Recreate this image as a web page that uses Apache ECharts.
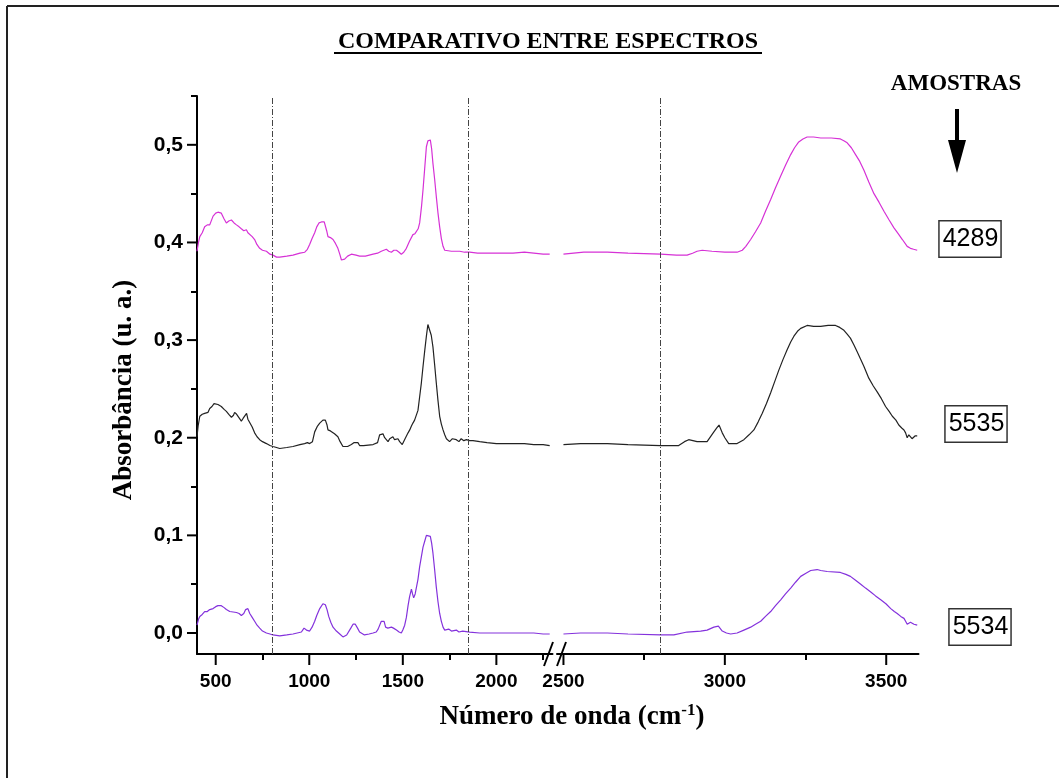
<!DOCTYPE html>
<html>
<head>
<meta charset="utf-8">
<script src="https://cdn.jsdelivr.net/npm/echarts@6/dist/echarts.min.js"></script>
<style>
  html, body { margin: 0; padding: 0; background: #fff; }
  #chart { width: 1059px; height: 778px; }
</style>
</head>
<body>
<div id="chart"></div>
<script>
// sample names and colours
const sampleNames = ['4289', '5535', '5534'];
const sampleColors = ['#d631d6', '#222222', '#8432dc'];

// wavenumber (cm-1) / absorbance
const wn4289 = [400, 408, 415, 428, 441, 455, 468, 486, 500, 512, 530, 545, 557, 570, 584, 598, 611, 625, 637, 650, 664, 672, 682, 695, 708, 720, 735, 750, 771, 790, 806, 825, 842, 880, 913, 950, 976, 990, 1002, 1015, 1029, 1040, 1052, 1065, 1073, 1080, 1086, 1093, 1100, 1113, 1127, 1140, 1153, 1163, 1172, 1180, 1189, 1205, 1225, 1250, 1269, 1300, 1341, 1365, 1385, 1395, 1412, 1425, 1439, 1452, 1466, 1480, 1492, 1505, 1519, 1535, 1554, 1565, 1572, 1582, 1590, 1600, 1608, 1617, 1626, 1634, 1640, 1647, 1654, 1661, 1670, 1679, 1688, 1697, 1706, 1715, 1724, 1733, 1760, 1804, 1830, 1857, 1900, 1950, 2000, 2050, 2089, 2150, 2200, 2250, 2285,
  2500, 2563, 2636, 2700, 2801, 2850, 2883, 2900, 2914, 2930, 2960, 3000, 3038, 3054, 3065, 3080, 3095, 3111, 3126, 3142, 3157, 3173, 3188, 3204, 3216, 3229, 3242, 3255, 3275, 3297, 3330, 3358, 3370, 3379, 3392, 3405, 3418, 3431, 3446, 3462, 3478, 3493, 3509, 3524, 3537, 3550, 3565, 3575, 3585, 3596];
const abs4289 = [0.391, 0.400, 0.406, 0.410, 0.416, 0.418, 0.418, 0.427, 0.430, 0.431, 0.430, 0.424, 0.420, 0.422, 0.423, 0.420, 0.418, 0.416, 0.414, 0.412, 0.413, 0.410, 0.409, 0.406, 0.403, 0.398, 0.394, 0.392, 0.391, 0.388, 0.387, 0.385, 0.385, 0.386, 0.387, 0.389, 0.390, 0.393, 0.398, 0.404, 0.410, 0.416, 0.420, 0.421, 0.423, 0.421, 0.420, 0.412, 0.406, 0.405, 0.403, 0.399, 0.394, 0.388, 0.382, 0.382, 0.383, 0.386, 0.388, 0.387, 0.386, 0.386, 0.388, 0.389, 0.391, 0.393, 0.393, 0.391, 0.390, 0.392, 0.392, 0.390, 0.388, 0.390, 0.394, 0.401, 0.408, 0.409, 0.410, 0.414, 0.420, 0.437, 0.454, 0.476, 0.498, 0.504, 0.506, 0.505, 0.496, 0.481, 0.465, 0.447, 0.430, 0.416, 0.404, 0.396, 0.392, 0.390, 0.391, 0.391, 0.390, 0.390, 0.389, 0.389, 0.389, 0.389, 0.389, 0.390, 0.389, 0.388, 0.388,
  0.388, 0.390, 0.390, 0.389, 0.388, 0.387, 0.387, 0.389, 0.391, 0.392, 0.391, 0.390, 0.390, 0.392, 0.396, 0.403, 0.411, 0.420, 0.432, 0.444, 0.456, 0.468, 0.479, 0.490, 0.497, 0.503, 0.506, 0.508, 0.508, 0.507, 0.507, 0.506, 0.504, 0.502, 0.497, 0.490, 0.483, 0.474, 0.462, 0.450, 0.441, 0.432, 0.423, 0.415, 0.409, 0.403, 0.396, 0.394, 0.393, 0.392];

const wn5535 = [400, 406, 415, 428, 433, 441, 450, 459, 468, 480, 491, 500, 512, 530, 545, 557, 570, 584, 595, 601, 612, 622, 637, 647, 655, 665, 672, 682, 695, 708, 721, 735, 750, 771, 790, 806, 825, 842, 880, 913, 950, 975, 990, 1002, 1017, 1029, 1044, 1056, 1073, 1086, 1095, 1100, 1113, 1123, 1135, 1153, 1165, 1180, 1189, 1205, 1225, 1240, 1248, 1260, 1269, 1290, 1341, 1365, 1376, 1386, 1394, 1403, 1412, 1421, 1430, 1439, 1447, 1456, 1465, 1474, 1483, 1492, 1497, 1505, 1512, 1519, 1528, 1537, 1546, 1554, 1563, 1572, 1581, 1590, 1599, 1608, 1617, 1626, 1634, 1644, 1652, 1661, 1670, 1679, 1688, 1697, 1706, 1715, 1724, 1733, 1742, 1750, 1765, 1775, 1786, 1800, 1812, 1826, 1840, 1857, 1875, 1911, 1950, 2000, 2089, 2150, 2200, 2250, 2285,
  2500, 2553, 2636, 2700, 2801, 2857, 2875, 2888, 2914, 2945, 2966, 2975, 2982, 2992, 3000, 3012, 3038, 3059, 3075, 3090, 3103, 3116, 3129, 3142, 3155, 3167, 3180, 3193, 3204, 3214, 3225, 3235, 3255, 3275, 3297, 3320, 3343, 3356, 3369, 3379, 3389, 3400, 3410, 3420, 3431, 3446, 3460, 3472, 3485, 3498, 3509, 3519, 3530, 3539, 3548, 3555, 3560, 3565, 3570, 3575, 3580, 3584, 3590, 3596];
const abs5535 = [0.201, 0.212, 0.222, 0.224, 0.222, 0.225, 0.223, 0.226, 0.230, 0.232, 0.235, 0.236, 0.234, 0.232, 0.229, 0.227, 0.224, 0.221, 0.223, 0.226, 0.224, 0.222, 0.217, 0.220, 0.222, 0.225, 0.219, 0.217, 0.211, 0.205, 0.201, 0.198, 0.196, 0.194, 0.192, 0.191, 0.190, 0.189, 0.190, 0.191, 0.193, 0.194, 0.195, 0.194, 0.196, 0.206, 0.212, 0.215, 0.218, 0.218, 0.213, 0.208, 0.207, 0.206, 0.204, 0.201, 0.196, 0.191, 0.189, 0.191, 0.193, 0.195, 0.197, 0.195, 0.192, 0.192, 0.193, 0.195, 0.203, 0.204, 0.204, 0.200, 0.198, 0.196, 0.199, 0.201, 0.201, 0.198, 0.200, 0.199, 0.196, 0.196, 0.193, 0.191, 0.199, 0.199, 0.205, 0.208, 0.212, 0.215, 0.218, 0.220, 0.228, 0.242, 0.256, 0.273, 0.289, 0.304, 0.316, 0.314, 0.305, 0.293, 0.275, 0.256, 0.238, 0.222, 0.214, 0.208, 0.203, 0.199, 0.197, 0.196, 0.199, 0.197, 0.198, 0.196, 0.199, 0.197, 0.198, 0.197, 0.197, 0.196, 0.195, 0.194, 0.194, 0.194, 0.193, 0.193, 0.192,
  0.193, 0.194, 0.194, 0.193, 0.192, 0.192, 0.196, 0.198, 0.196, 0.196, 0.206, 0.210, 0.213, 0.205, 0.200, 0.194, 0.194, 0.198, 0.203, 0.208, 0.216, 0.225, 0.235, 0.246, 0.258, 0.269, 0.280, 0.290, 0.298, 0.304, 0.309, 0.312, 0.315, 0.314, 0.314, 0.315, 0.315, 0.313, 0.310, 0.306, 0.302, 0.295, 0.288, 0.281, 0.273, 0.261, 0.253, 0.247, 0.240, 0.232, 0.227, 0.222, 0.218, 0.213, 0.210, 0.208, 0.205, 0.200, 0.203, 0.204, 0.199, 0.200, 0.202, 0.202];

const wn5534 = [400, 408, 415, 428, 441, 455, 468, 486, 500, 512, 530, 545, 557, 575, 584, 611, 625, 637, 650, 660, 672, 682, 695, 708, 721, 735, 750, 771, 790, 806, 842, 880, 913, 958, 972, 985, 1002, 1015, 1029, 1040, 1056, 1073, 1086, 1095, 1104, 1115, 1127, 1145, 1163, 1180, 1186, 1200, 1210, 1222, 1234, 1246, 1258, 1269, 1295, 1320, 1341, 1358, 1368, 1385, 1393, 1400, 1408, 1420, 1430, 1439, 1450, 1466, 1480, 1492, 1500, 1510, 1519, 1528, 1536, 1546, 1552, 1558, 1566, 1572, 1581, 1590, 1599, 1608, 1617, 1626, 1634, 1647, 1654, 1661, 1670, 1679, 1688, 1697, 1706, 1715, 1724, 1733, 1745, 1760, 1786, 1800, 1820, 1857, 1911, 2000, 2089, 2150, 2200, 2250, 2285,
  2500, 2553, 2636, 2700, 2801, 2842, 2883, 2925, 2945, 2966, 2980, 2992, 3005, 3018, 3038, 3059, 3080, 3095, 3111, 3126, 3142, 3157, 3173, 3188, 3204, 3219, 3235, 3250, 3266, 3286, 3297, 3317, 3358, 3375, 3389, 3405, 3421, 3436, 3452, 3467, 3483, 3499, 3514, 3525, 3534, 3545, 3555, 3560, 3565, 3570, 3575, 3580, 3586, 3596];
const abs5534 = [0.008, 0.014, 0.017, 0.019, 0.022, 0.022, 0.024, 0.025, 0.027, 0.028, 0.028, 0.026, 0.024, 0.022, 0.021, 0.021, 0.020, 0.018, 0.020, 0.024, 0.025, 0.020, 0.016, 0.012, 0.008, 0.005, 0.002, 0.000, -0.001, -0.002, -0.003, -0.002, -0.001, 0.001, 0.005, 0.003, 0.002, 0.006, 0.012, 0.018, 0.025, 0.030, 0.029, 0.024, 0.017, 0.011, 0.006, 0.002, -0.001, -0.004, -0.005, -0.002, 0.000, 0.005, 0.009, 0.009, 0.005, 0.001, -0.002, -0.001, 0.000, 0.001, 0.004, 0.012, 0.014, 0.012, 0.006, 0.005, 0.007, 0.006, 0.005, 0.003, 0.001, 0.000, 0.003, 0.008, 0.016, 0.028, 0.037, 0.045, 0.040, 0.036, 0.040, 0.042, 0.055, 0.068, 0.078, 0.088, 0.094, 0.100, 0.101, 0.099, 0.092, 0.082, 0.065, 0.047, 0.032, 0.020, 0.012, 0.006, 0.003, 0.002, 0.004, 0.002, 0.003, 0.001, 0.002, 0.001, 0.000, 0.000, 0.000, 0.000, 0.000, -0.001, -0.001,
  -0.001, 0.000, 0.000, -0.001, -0.002, -0.002, 0.001, 0.002, 0.003, 0.006, 0.007, 0.002, 0.000, -0.001, 0.000, 0.003, 0.006, 0.009, 0.012, 0.017, 0.022, 0.028, 0.034, 0.040, 0.046, 0.052, 0.058, 0.061, 0.064, 0.065, 0.064, 0.063, 0.062, 0.060, 0.058, 0.054, 0.050, 0.046, 0.042, 0.038, 0.034, 0.030, 0.025, 0.022, 0.020, 0.017, 0.015, 0.012, 0.009, 0.011, 0.011, 0.009, 0.009, 0.008];

// broken x axis: two ranges
const lowRange = [400, 2300];
const highRange = [2480, 3600];
const lowMajor = [500, 1000, 1500, 2000];
const lowMinor = [750, 1250, 1750, 2250];
const highMajor = [2500, 3000, 3500];
const highMinor = [2750, 3250];
const yRange = [-0.0215, 0.55];
const yMajor = [0, 0.1, 0.2, 0.3, 0.4, 0.5];
const yMinor = [0.05, 0.15, 0.25, 0.35, 0.45, 0.55];
const guideLow = [800, 1850];
const guideHigh = [2800];

const wnAll = [wn4289, wn5535, wn5534];
const absAll = [abs4289, abs5535, abs5534];

const SERIF = '"Liberation Serif", "Times New Roman", serif';
const SANS = '"Liberation Sans", Arial, sans-serif';

function segment(wn, abs, range) {
    const out = [];
    for (let i = 0; i < wn.length; i++) {
        if (wn[i] >= range[0] && wn[i] <= range[1]) out.push([wn[i], abs[i]]);
    }
    return out;
}

function guideMark(values) {
    return {
        silent: true,
        symbol: 'none',
        label: { show: false },
        lineStyle: { color: '#444', width: 1, type: [6, 2, 1, 2] },
        data: values.map(v => ({ xAxis: v }))
    };
}

// x axes: 0-1 on left grid, 2-3 on right grid; y axes 0-1 left grid, 2 right grid
const series = [];
sampleNames.forEach((name, i) => {
    [lowRange, highRange].forEach((range, g) => {
        series.push({
            name: name,
            type: 'line',
            xAxisIndex: g === 0 ? 0 : 2,
            yAxisIndex: g === 0 ? 0 : 2,
            data: segment(wnAll[i], absAll[i], range),
            showSymbol: false,
            lineStyle: { color: sampleColors[i], width: 1.2 },
            itemStyle: { color: sampleColors[i] },
            animation: false,
            markLine: i === 0 ? guideMark(g === 0 ? guideLow : guideHigh) : undefined
        });
    });
});

const tickLine = { color: '#000', width: 2 };
const xLabelFont = { fontFamily: SANS, fontWeight: 'bold', fontSize: 19, color: '#000' };
const yLabelFont = { fontFamily: SANS, fontWeight: 'bold', fontSize: 21, color: '#000' };

function xMain(grid, range, major) {
    return {
        type: 'value', gridIndex: grid, position: 'bottom', min: range[0], max: range[1],
        axisLine: { show: true, onZero: false, lineStyle: { color: '#000', width: 2 } },
        axisTick: { show: false },
        axisLabel: Object.assign({ customValues: major, margin: 18, formatter: v => String(v) }, xLabelFont),
        splitLine: { show: false }
    };
}
function xMinor(grid, range, minor) {
    return {
        type: 'value', gridIndex: grid, position: 'bottom', min: range[0], max: range[1],
        axisLine: { show: false, onZero: false },
        axisTick: { show: true, customValues: minor, length: 6, lineStyle: tickLine },
        axisLabel: { show: false },
        splitLine: { show: false }
    };
}

const chart = echarts.init(document.getElementById('chart'));

const boxes = [
    { x: 970, y: 239 },
    { x: 976, y: 424 },
    { x: 980, y: 627 }
];

const staticGraphic = [
    // frame
    { id: 'frameTop', type: 'line', shape: { x1: 7, y1: 6, x2: 1059, y2: 6 }, style: { stroke: '#222', lineWidth: 2 } },
    { id: 'frameLeft', type: 'line', shape: { x1: 7, y1: 6, x2: 7, y2: 778 }, style: { stroke: '#222', lineWidth: 2 } },
    // title
    {
        id: 'title', type: 'text', x: 548, y: 42,
        style: { text: 'COMPARATIVO ENTRE ESPECTROS', font: 'bold 24px ' + SERIF, fill: '#000', align: 'center', verticalAlign: 'middle', textAlign: 'center', textVerticalAlign: 'middle' }
    },
    { id: 'titleLine', type: 'line', shape: { x1: 334, y1: 53, x2: 762, y2: 53 }, style: { stroke: '#000', lineWidth: 2 } },
    // legend heading and arrow
    {
        id: 'amostras', type: 'text', x: 956, y: 84,
        style: { text: 'AMOSTRAS', font: 'bold 23px ' + SERIF, fill: '#000', align: 'center', verticalAlign: 'middle', textAlign: 'center', textVerticalAlign: 'middle' }
    },
    { id: 'arrowShaft', type: 'line', shape: { x1: 957, y1: 109, x2: 957, y2: 145 }, style: { stroke: '#000', lineWidth: 4 } },
    { id: 'arrowHead', type: 'polygon', shape: { points: [[948, 140], [966, 140], [957, 173]] }, style: { fill: '#000' } },
    // sample boxes
    ...sampleNames.map((name, i) => ({
        id: 'box' + i, type: 'text', x: boxes[i].x, y: boxes[i].y,
        style: {
            text: name, font: '25px ' + SANS, fill: '#000',
            align: 'center', verticalAlign: 'middle', textAlign: 'center', textVerticalAlign: 'middle',
            borderColor: '#333', borderWidth: 1.5, padding: [6, 2, 4, 3], backgroundColor: '#fff'
        }
    })),
    // axis names
    {
        id: 'yName', type: 'text', x: 124, y: 390, rotation: Math.PI / 2,
        style: { text: 'Absorbância (u. a.)', font: 'bold 27px ' + SERIF, fill: '#000', align: 'center', verticalAlign: 'middle', textAlign: 'center', textVerticalAlign: 'middle' }
    },
    {
        id: 'xName', type: 'text', x: 572, y: 717,
        style: {
            text: '{a|Número de onda (cm}{s|-1}{a|)}',
            fill: '#000', align: 'center', verticalAlign: 'middle', textAlign: 'center', textVerticalAlign: 'middle',
            rich: {
                a: { fontFamily: SERIF, fontWeight: 'bold', fontSize: 27, fill: '#000', color: '#000' },
                s: { fontFamily: SERIF, fontWeight: 'bold', fontSize: 17, fill: '#000', color: '#000', verticalAlign: 'top', padding: [0, 0, 12, 0] }
            }
        }
    },
    // axis break marks
    { id: 'break1', type: 'line', shape: { x1: 544, y1: 666, x2: 553, y2: 642 }, style: { stroke: '#000', lineWidth: 2 } },
    { id: 'break2', type: 'line', shape: { x1: 557, y1: 666, x2: 566, y2: 642 }, style: { stroke: '#000', lineWidth: 2 } }
];

chart.setOption({
    backgroundColor: '#fff',
    animation: false,
    grid: [
        { left: 197, top: 96, width: 355.5, height: 558 },
        { left: 557, top: 96, width: 361.5, height: 558 }
    ],
    xAxis: [
        xMain(0, lowRange, lowMajor),
        xMinor(0, lowRange, lowMinor),
        xMain(1, highRange, highMajor),
        xMinor(1, highRange, highMinor)
    ],
    yAxis: [
        {
            type: 'value', gridIndex: 0, position: 'left', min: yRange[0], max: yRange[1],
            axisLine: { show: true, onZero: false, lineStyle: { color: '#000', width: 2 } },
            axisTick: { show: false },
            axisLabel: Object.assign({
                customValues: yMajor, margin: 14,
                formatter: v => v.toFixed(1).replace('.', ',')
            }, yLabelFont),
            splitLine: { show: false }
        },
        {
            type: 'value', gridIndex: 0, position: 'left', min: yRange[0], max: yRange[1],
            axisLine: { show: false, onZero: false },
            axisTick: { show: true, customValues: yMinor, length: 6, lineStyle: tickLine },
            axisLabel: { show: false },
            splitLine: { show: false }
        },
        {
            type: 'value', gridIndex: 1, min: yRange[0], max: yRange[1], show: false
        }
    ],
    series: series,
    graphic: staticGraphic
});

// major ticks, placed through the axes' own scales
const majorTicks = [];
const axisBottom = chart.convertToPixel({ yAxisIndex: 0 }, yRange[0]);
const axisLeft = chart.convertToPixel({ xAxisIndex: 0 }, lowRange[0]);
[[0, lowMajor], [2, highMajor]].forEach(([axisIdx, values]) => {
    values.forEach(v => {
        const px = chart.convertToPixel({ xAxisIndex: axisIdx }, v);
        majorTicks.push({
            id: 'xt' + axisIdx + '_' + v, type: 'line', z: 50,
            shape: { x1: px, y1: axisBottom, x2: px, y2: axisBottom + 11 },
            style: { stroke: '#000', lineWidth: 2 }
        });
    });
});
yMajor.forEach(v => {
    const py = chart.convertToPixel({ yAxisIndex: 0 }, v);
    majorTicks.push({
        id: 'yt_' + v, type: 'line', z: 50,
        shape: { x1: axisLeft - 10, y1: py, x2: axisLeft, y2: py },
        style: { stroke: '#000', lineWidth: 2 }
    });
});
chart.setOption({ graphic: staticGraphic.concat(majorTicks) });
</script>
</body>
</html>
